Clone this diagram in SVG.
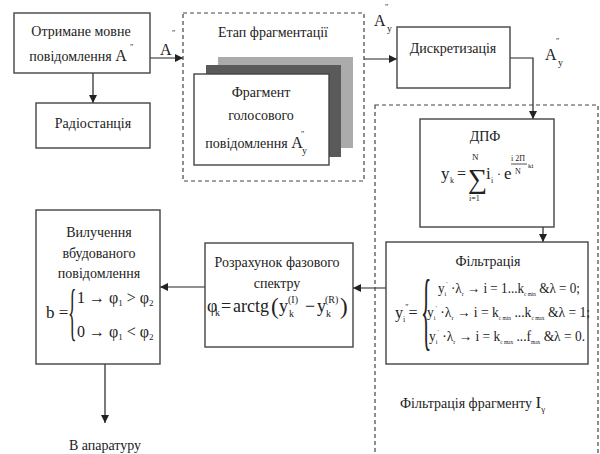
<svg xmlns="http://www.w3.org/2000/svg" width="600" height="454" viewBox="0 0 600 454" font-family="'Liberation Serif', 'DejaVu Serif', 'Times New Roman', serif">
<defs>
<marker id="ah" viewBox="0 0 10 10" refX="10" refY="5" markerWidth="8" markerHeight="8" markerUnits="userSpaceOnUse" orient="auto">
<path d="M0,0 L10,5 L0,10 z" fill="#222"/>
</marker>
<style>
text{font-family:'Liberation Serif','DejaVu Serif','Times New Roman',serif;fill:#222;}
.t{font-size:14px;text-anchor:middle;}
.box{fill:#fff;stroke:#444;stroke-width:1.4;}
.dash{fill:none;stroke:#444;stroke-width:1.2;stroke-dasharray:4 3;}
.ln{fill:none;stroke:#222;stroke-width:1.2;marker-end:url(#ah);}
.f{font-size:16px;}
.pr{font-size:8px;}
</style>
</defs>
<rect width="600" height="454" fill="#fff"/>

<g id="connectors">
<path class="ln" d="M150,58 H183"/>
<path class="ln" d="M93,73 V103"/>
<path class="ln" d="M364,59 H397"/>
<path class="ln" d="M510,58 H533 V119"/>
<path class="ln" d="M543,227 V242"/>
<path class="ln" d="M386,288 H353"/>
<path class="ln" d="M205,287 H160"/>
<path class="ln" d="M105,364 V423"/>
</g>

<g id="label-a1">
<text x="160" y="55" class="f">A</text><text x="172" y="36" class="pr">″</text>
</g>
<g id="label-a2">
<text x="374" y="26" class="f">A</text><text x="385" y="10" class="pr">″</text><text x="387" y="32" font-size="10">y</text>
</g>
<g id="label-a3">
<text x="545" y="60" class="f">A</text><text x="556" y="44" class="pr">″</text><text x="558" y="66" font-size="10">y</text>
</g>

<g id="n-received">
<rect class="box" x="14" y="13" width="136" height="60"/>
<text x="81" y="36" class="t">Отримане мовне</text>
<text x="78" y="61" class="t">повідомлення <tspan font-size="16">A</tspan></text>
<text x="130" y="50" class="pr">″</text>
</g>

<g id="n-radio">
<rect class="box" x="36" y="103" width="114" height="45"/>
<text x="93" y="128" class="t">Радіостанція</text>
</g>

<g id="n-fragstage">
<rect class="dash" x="183" y="13" width="181" height="168"/>
<text x="273" y="37" class="t">Етап фрагментації</text>
<rect x="218" y="57" width="135" height="91" fill="#ababab"/>
<rect x="206" y="65" width="135" height="92" fill="#5a5a5a"/>
<rect class="box" x="194" y="74" width="135" height="91"/>
<text x="261" y="97" class="t">Фрагмент</text>
<text x="261" y="120" class="t">голосового</text>
<text x="254" y="148" class="t">повідомлення <tspan font-size="16">A</tspan></text>
<text x="301" y="137" class="pr">″</text>
<text x="302" y="154" font-size="10">y</text>
</g>

<g id="n-discr">
<rect class="box" x="397" y="27" width="113" height="61"/>
<text x="453" y="53" class="t">Дискретизація</text>
</g>

<g id="n-filtfrag">
<rect class="dash" x="375" y="105" width="223" height="360"/>
<text x="400" y="408" font-size="14">Фільтрація фрагменту <tspan font-size="17">I</tspan><tspan font-size="9" dy="4">γ</tspan></text>
</g>

<g id="n-dpf">
<rect class="box" x="420" y="119" width="134" height="108"/>
<text x="485" y="141" class="t">ДПФ</text>
<text x="441" y="179" font-size="17">y</text>
<text x="450" y="183" font-size="8">k</text>
<text x="457" y="179" font-size="16">=</text>
<text x="468" y="188" font-size="27">∑</text>
<text x="472" y="160" font-size="9">N</text>
<text x="469" y="201" font-size="8">i=1</text>
<text x="486" y="179" font-size="17">i</text>
<text x="491" y="183" font-size="8">i</text>
<text x="497" y="178" font-size="12">·</text>
<text x="504" y="179" font-size="17">e</text>
<text x="511" y="161" font-size="8">i 2Π</text>
<line x1="511" y1="164" x2="527" y2="164" stroke="#222" stroke-width="0.8"/>
<text x="515" y="174" font-size="8">N</text>
<text x="528" y="168" font-size="7">ki</text>
</g>

<g id="n-filt">
<rect class="box" x="386" y="242" width="202" height="122"/>
<text x="488" y="266" class="t">Фільтрація</text>
<text x="395" y="318" font-size="16">y<tspan font-size="8" dy="4">i</tspan><tspan font-size="8" dy="-12">″</tspan><tspan dy="8">=</tspan></text>
<text transform="translate(421,339) scale(0.25,1)" font-size="86">{</text>
<text x="438" y="293" font-size="15" textLength="142" lengthAdjust="spacingAndGlyphs">y<tspan font-size="7" dy="3">i</tspan><tspan font-size="7" dy="-10">′</tspan><tspan dy="7"> ·λ</tspan><tspan font-size="7" dy="3">r</tspan><tspan dy="-3"> → i = 1...k</tspan><tspan font-size="6" dy="3">c min</tspan><tspan dy="-3"> &amp;λ = 0;</tspan></text>
<text x="427" y="317" font-size="15" textLength="163" lengthAdjust="spacingAndGlyphs">y<tspan font-size="7" dy="3">i</tspan><tspan font-size="7" dy="-10">′</tspan><tspan dy="7"> ·λ</tspan><tspan font-size="7" dy="3">r</tspan><tspan dy="-3"> → i = k</tspan><tspan font-size="6" dy="3">c min</tspan><tspan dy="-3"> ...k</tspan><tspan font-size="6" dy="3">c max</tspan><tspan dy="-3"> &amp;λ = 1;</tspan></text>
<text x="429" y="341" font-size="15" textLength="156" lengthAdjust="spacingAndGlyphs">y<tspan font-size="7" dy="3">i</tspan><tspan font-size="7" dy="-10">′</tspan><tspan dy="7"> ·λ</tspan><tspan font-size="7" dy="3">r</tspan><tspan dy="-3"> → i = k</tspan><tspan font-size="6" dy="3">c max</tspan><tspan dy="-3"> ...f</tspan><tspan font-size="6" dy="3">max</tspan><tspan dy="-3"> &amp;λ = 0.</tspan></text>
</g>

<g id="n-phase">
<rect class="box" x="205" y="243" width="148" height="104"/>
<text x="277" y="267" class="t">Розрахунок фазового</text>
<text x="277" y="288" class="t">спектру</text>
<text x="207" y="312" font-size="18">φ</text>
<text x="215" y="316" font-size="10">k</text>
<text x="221" y="312" font-size="18">=</text>
<text x="233" y="312" font-size="18">arctg</text>
<text x="271" y="314" font-size="23">(</text>
<text x="279" y="312" font-size="18">y</text>
<text x="288" y="303" font-size="10">(I)</text>
<text x="289" y="317" font-size="10">k</text>
<text x="305" y="312" font-size="18">−</text>
<text x="317" y="312" font-size="18">y</text>
<text x="325" y="303" font-size="10">(R)</text>
<text x="326" y="317" font-size="10">k</text>
<text x="340" y="314" font-size="23">)</text>
</g>

<g id="n-extract">
<rect class="box" x="36" y="210" width="124" height="154"/>
<text x="99" y="237" class="t">Вилучення</text>
<text x="99" y="258" class="t">вбудованого</text>
<text x="99" y="278" class="t">повідомлення</text>
<text x="46" y="318" font-size="17">b =</text>
<text transform="translate(68,333) scale(0.28,1)" font-size="64">{</text>
<text x="77" y="303" font-size="16">1 → φ<tspan font-size="9" dy="3">1</tspan><tspan dy="-3"> &gt; φ</tspan><tspan font-size="9" dy="3">2</tspan></text>
<text x="77" y="337" font-size="16">0 → φ<tspan font-size="9" dy="3">1</tspan><tspan dy="-3"> &lt; φ</tspan><tspan font-size="9" dy="3">2</tspan></text>
</g>

<g id="n-out">
<text x="105" y="450" class="t">В апаратуру</text>
</g>
</svg>
